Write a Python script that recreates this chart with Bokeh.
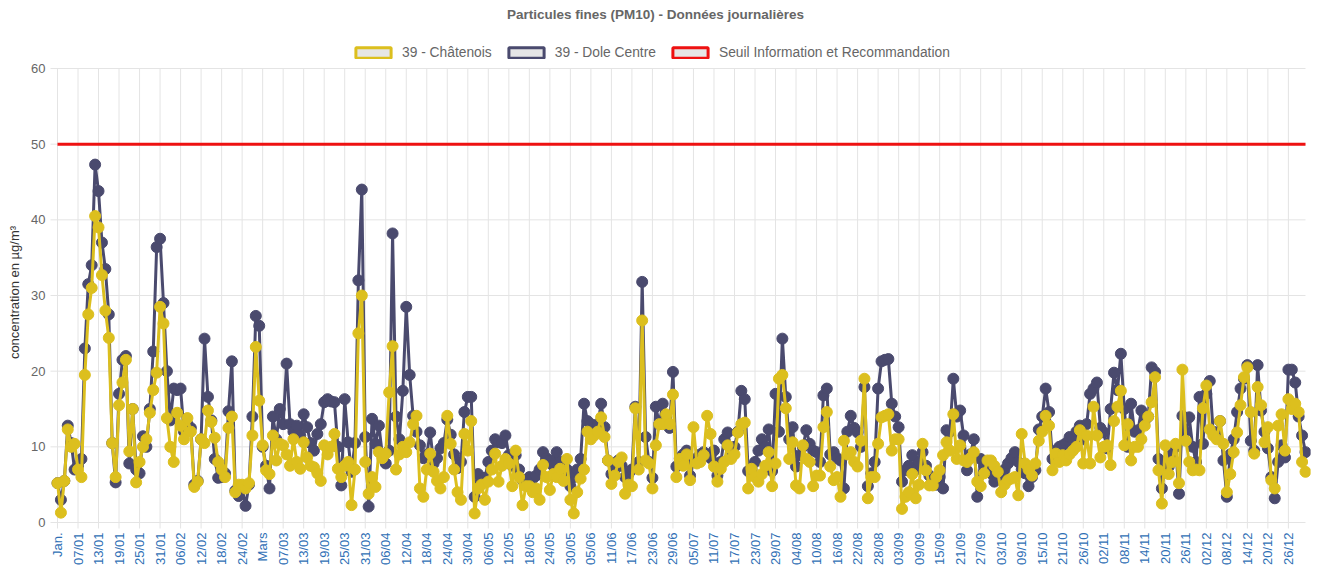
import math
from bokeh.plotting import figure
from bokeh.models import (Range1d, FixedTicker, Legend, LegendItem, ColumnDataSource, Label)
from bokeh.core.properties import value
from bokeh.embed import file_html
from bokeh.resources import INLINE

title_text = "Particules fines (PM10) - Données journalières"
y_axis_title = "concentration en µg/m³"
series_names = ["39 - Châtenois", "39 - Dole Centre", "Seuil Information et Recommandation"]
threshold = 50
y_ticks = [0, 10, 20, 30, 40, 50, 60]

tick_labels = ["Jan.", "07/01", "13/01", "19/01", "25/01", "31/01", "06/02", "12/02", "18/02", "24/02",
               "Mars", "07/03", "13/03", "19/03", "25/03", "31/03", "06/04", "12/04", "18/04", "24/04",
               "30/04", "06/05", "12/05", "18/05", "24/05", "30/05", "05/06", "11/06", "17/06", "23/06",
               "29/06", "05/07", "11/07", "17/07", "23/07", "29/07", "04/08", "10/08", "16/08", "22/08",
               "28/08", "03/09", "09/09", "15/09", "21/09", "27/09", "03/10", "09/10", "15/10", "21/10",
               "26/10", "02/11", "08/11", "14/11", "20/11", "26/11", "02/12", "08/12", "14/12", "20/12",
               "26/12"]

dole = [
    5.2, 3.0, 5.5, 12.8, 10.5, 7.0, 7.5, 8.4, 23.0, 31.5,
    34.0, 47.3, 43.8, 37.0, 33.5, 27.5, 10.5, 5.3, 17.0, 21.5,
    22.0, 7.8, 15.0, 7.0, 6.5, 11.4, 10.0, 15.0, 22.6, 36.4,
    37.5, 29.0, 20.0, 13.5, 17.7, 17.5, 17.7, 12.0, 13.0, 12.5,
    5.0, 5.5, 11.0, 24.3, 16.6, 13.5, 8.4, 5.9, 6.0, 6.5,
    14.7, 21.3, 4.2, 3.5, 4.5, 2.2, 5.0, 14.0, 27.3, 26.0,
    10.0, 7.5, 4.5, 14.0, 11.0, 15.0, 13.0, 21.0, 13.0, 12.0,
    12.8, 11.5, 14.3, 12.6, 10.5, 9.5, 11.7, 13.0, 15.9, 16.3,
    16.0, 15.9, 10.0, 4.9, 16.3, 10.6, 6.7, 10.5, 32.0, 44.0,
    11.3, 2.1, 13.7, 10.4, 12.8, 9.0, 7.8, 9.5, 38.2, 14.0,
    11.0, 17.4, 28.5, 19.5, 14.1, 12.0, 10.2, 8.5, 9.0, 11.9,
    7.8, 8.5, 9.8, 10.5, 13.6, 11.6, 9.0, 7.2, 8.0, 14.6,
    16.6, 16.6, 3.4, 6.4, 5.5, 5.9, 8.0, 9.5, 11.0, 10.6,
    10.5, 11.5, 8.9, 7.5, 8.9, 7.0, 5.6, 5.5, 6.0, 5.8,
    6.2, 7.0, 9.3, 8.5, 8.2, 7.5, 9.3, 8.0, 6.5, 7.0,
    4.8, 6.0, 7.0, 8.4, 15.7, 13.4, 13.0, 12.0, 13.0, 15.7,
    12.6, 8.2, 6.4, 7.0, 8.2, 7.5, 6.0, 6.4, 7.0, 15.3,
    8.0, 31.8, 11.3, 8.0, 5.9, 15.3, 13.0, 15.7, 14.0, 12.5,
    19.9, 7.4, 8.5, 9.0, 9.5, 6.2, 8.0, 8.5, 9.0, 9.3,
    9.0, 8.5, 9.5, 6.2, 8.0, 11.0, 11.9, 9.5, 10.0, 12.0,
    17.4, 16.3, 6.8, 7.0, 8.0, 9.5, 11.0, 10.0, 12.3, 6.8,
    17.0, 12.0, 24.3, 16.6, 11.0, 12.6, 7.4, 8.9, 10.0, 12.2,
    10.4, 9.5, 9.3, 8.0, 16.8, 17.7, 9.0, 9.3, 8.5, 8.2,
    4.5, 12.0, 14.1, 12.5, 11.9, 10.0, 17.9, 4.8, 6.5, 8.0,
    17.7, 21.3, 21.5, 21.6, 15.7, 14.0, 12.6, 5.4, 6.9, 7.5,
    8.9, 7.0, 8.0, 9.3, 7.5, 6.2, 5.5, 5.0, 6.0, 4.5,
    12.2, 12.0, 19.0, 14.0, 14.8, 11.5, 6.9, 9.0, 11.0, 3.4,
    8.4, 7.5, 7.0, 6.5, 5.4, 6.0, 6.5, 7.0, 7.8, 8.5,
    9.3, 8.0, 7.0, 6.5, 4.8, 6.0, 6.9, 12.3, 14.0, 17.7,
    14.6, 8.4, 9.5, 10.0, 10.2, 10.5, 11.3, 11.0, 12.0, 12.8,
    11.0, 13.0, 17.0, 17.7, 18.5, 12.5, 11.9, 9.8, 15.0, 19.8,
    17.5, 22.3, 15.0, 10.0, 15.7, 12.0, 12.2, 14.8, 13.5, 14.0,
    20.5, 19.9, 8.4, 4.5, 8.0, 7.4, 9.0, 10.0, 3.8, 14.1,
    12.0, 13.9, 10.0, 8.0, 16.6, 10.4, 17.0, 18.7, 12.0, 11.9,
    13.4, 8.2, 3.4, 9.0, 11.0, 14.6, 17.7, 19.0, 20.8, 10.8,
    9.5, 20.8, 14.8, 12.0, 9.8, 6.0, 3.2, 8.0, 10.2, 8.6,
    20.2, 20.2, 18.5, 14.0, 11.5, 9.3,
]

chatenois = [
    5.2, 1.3, 5.5, 12.3, 10.0, 10.4, 7.0, 6.0, 19.5, 27.5,
    31.0, 40.5, 39.0, 32.7, 28.0, 24.4, 10.5, 6.0, 15.5, 18.5,
    21.5, 9.4, 15.0, 5.3, 8.0, 10.0, 11.0, 14.5, 17.5, 19.8,
    28.5, 26.3, 13.8, 10.0, 8.0, 14.5, 12.8, 11.0, 13.8, 12.0,
    4.7, 5.4, 11.0, 10.5, 14.8, 13.3, 11.2, 8.0, 7.0, 6.0,
    12.5, 14.0, 4.0, 5.0, 5.0, 4.5, 5.2, 11.5, 23.2, 16.1,
    10.2, 6.9, 6.4, 11.5, 8.2, 10.4, 10.2, 9.0, 7.5, 11.0,
    8.0, 7.1, 10.6, 8.6, 7.5, 7.3, 6.5, 5.5, 10.2, 9.0,
    10.0, 11.7, 7.1, 6.0, 7.5, 8.0, 2.3, 7.0, 25.0, 30.0,
    8.0, 3.8, 6.0, 4.7, 9.3, 8.5, 9.1, 17.2, 23.3, 7.0,
    9.0, 10.0, 9.3, 10.6, 13.0, 14.1, 4.5, 3.4, 7.0, 9.1,
    6.7, 5.5, 4.5, 6.0, 14.1, 10.4, 7.0, 4.0, 3.0, 11.7,
    9.5, 13.4, 1.2, 4.5, 5.0, 3.0, 5.4, 7.0, 9.1, 5.4,
    7.5, 8.4, 7.8, 4.8, 9.5, 6.0, 2.3, 4.8, 4.8, 4.0,
    4.5, 3.0, 7.6, 6.0, 4.3, 6.4, 6.0, 7.1, 5.5, 8.4,
    3.0, 1.2, 4.0, 5.8, 7.0, 12.0, 11.0, 11.5, 12.0, 13.9,
    11.3, 8.2, 5.1, 6.2, 8.0, 8.6, 3.8, 5.0, 4.8, 15.1,
    7.0, 26.7, 8.2, 7.8, 4.5, 10.2, 13.0, 13.0, 14.3, 13.0,
    16.9, 6.0, 8.4, 7.5, 9.0, 5.6, 12.6, 7.8, 8.0, 8.9,
    14.1, 11.7, 7.4, 5.4, 7.1, 8.0, 10.2, 8.4, 9.0, 11.9,
    13.0, 13.2, 4.5, 7.1, 6.0, 5.4, 6.4, 7.5, 9.3, 4.8,
    7.8, 19.0, 19.5, 15.1, 8.4, 10.6, 4.9, 4.5, 10.2, 8.4,
    8.0, 4.8, 6.2, 6.2, 12.6, 14.6, 7.4, 5.6, 6.0, 3.4,
    10.8, 9.0, 9.3, 8.0, 7.4, 10.8, 19.0, 3.2, 6.0, 6.0,
    10.4, 13.9, 14.1, 14.3, 9.5, 11.0, 11.0, 1.8, 3.4, 4.0,
    6.4, 3.2, 5.0, 10.4, 6.9, 4.9, 4.9, 6.0, 6.9, 8.9,
    10.6, 9.5, 14.3, 8.4, 10.2, 8.2, 8.0, 8.5, 9.3, 5.4,
    4.8, 6.5, 8.2, 8.2, 7.5, 6.7, 4.0, 5.0, 5.6, 5.8,
    6.0, 3.6, 11.7, 7.8, 7.0, 6.2, 7.8, 10.8, 12.0, 14.1,
    12.8, 6.9, 9.1, 8.0, 8.9, 8.2, 9.0, 9.5, 10.0, 12.2,
    7.8, 11.5, 7.8, 15.3, 11.5, 8.6, 10.0, 10.2, 7.6, 13.4,
    15.3, 17.4, 10.2, 13.0, 8.2, 10.0, 10.0, 11.0, 12.8, 14.0,
    15.9, 19.2, 6.9, 2.5, 10.2, 6.4, 8.0, 10.4, 5.2, 20.2,
    10.8, 8.0, 6.9, 7.0, 6.9, 15.1, 18.1, 12.3, 11.5, 11.0,
    13.4, 10.4, 4.0, 6.4, 9.3, 11.9, 15.5, 19.2, 20.5, 14.6,
    9.1, 17.9, 15.5, 10.6, 12.6, 5.6, 4.5, 12.8, 14.3, 9.5,
    16.3, 15.0, 15.7, 14.6, 8.0, 6.7,
]

assert len(dole) == 366 and len(chatenois) == 366

days = list(range(len(dole)))
tick_days = list(range(0, len(dole), 6))
last_day = len(dole) - 1

COL_CHAT = "#dcbf1e"
COL_DOLE = "#4a4a6e"
COL_SEUIL = "#ee1111"
GRID = "#e4e4e4"
FONT = "Liberation Sans"

# layout geometry (pixels); the frame covers the whole canvas above the x labels
FIG_H = 568
FRAME_R, FRAME_B = 1310, 529
ZERO_PX = 522               # pixel row of the value 0
TOP_PX = 68                 # pixel row of the value 60
DATA_L, DATA_R = 57, 1305   # pixel columns of the first and last day
GRID_L = 50
px_per_unit = (ZERO_PX - TOP_PX) / 60.0
y_start = -(FRAME_B - ZERO_PX) / px_per_unit
y_end = ZERO_PX / px_per_unit
px_per_day = (DATA_R - DATA_L) / last_day
x_start = -DATA_L / px_per_day
x_end = last_day + (FRAME_R - DATA_R) / px_per_day


def px_to_x(px):
    return x_start + px / px_per_day


def px_to_y(py):
    return (ZERO_PX - py) / px_per_unit


p = figure(width=FRAME_R + 2, height=FIG_H, output_backend="svg", toolbar_location=None,
           x_range=Range1d(x_start, x_end), y_range=Range1d(y_start, y_end),
           min_border_left=0, min_border_right=2, min_border_bottom=FIG_H - FRAME_B,
           min_border_top=0)

p.outline_line_color = None
p.background_fill_color = "white"
p.xgrid.visible = False
p.ygrid.visible = False
p.yaxis.visible = False

# grid lines limited to the 0..60 data area (vertical ones extend as small ticks below 0)
p.segment(x0=tick_days, x1=tick_days, y0=[px_to_y(ZERO_PX + 6)] * len(tick_days),
          y1=[60] * len(tick_days), line_color=GRID, line_width=1)
p.segment(x0=[px_to_x(GRID_L)] * len(y_ticks), x1=[last_day] * len(y_ticks), y0=y_ticks, y1=y_ticks,
          line_color=GRID, line_width=1)

# y tick labels and y axis title
p.text(x=[px_to_x(45)] * len(y_ticks), y=y_ticks, text=[str(t) for t in y_ticks],
       text_align="right", text_baseline="middle", text_font=value(FONT),
       text_font_size="13px", text_color="#666666")
p.add_layout(Label(x=px_to_x(14), y=px_to_y(292), text=y_axis_title, angle=math.pi / 2,
                   text_align="center", text_baseline="middle", text_font=FONT,
                   text_font_size="13px", text_color="#333333"))

src = ColumnDataSource(dict(day=days, dole=dole, chat=chatenois,
                            seuil=[threshold] * len(days)))

p.line("day", "seuil", source=src, line_color=COL_SEUIL, line_width=3)
p.line("day", "dole", source=src, line_color=COL_DOLE, line_width=3)
p.scatter("day", "dole", source=src, size=11, fill_color=COL_DOLE, line_color=COL_DOLE)
p.line("day", "chat", source=src, line_color=COL_CHAT, line_width=3)
p.scatter("day", "chat", source=src, size=11, fill_color=COL_CHAT, line_color=COL_CHAT)

# title
p.add_layout(Label(x=px_to_x(655), y=px_to_y(14), text=title_text, text_align="center",
                   text_baseline="middle", text_font=FONT, text_font_size="13.5px",
                   text_font_style="bold", text_color="#666666"))

# legend swatches (proxy boxes kept outside the visible ranges)
sw = []
for c in [COL_CHAT, COL_DOLE, COL_SEUIL]:
    sw.append(p.quad(left=[x_start - 20], right=[x_start - 19], top=[-20], bottom=[-21],
                     fill_color="#e6e6e6", line_color=c, line_width=3))
legend = Legend(items=[LegendItem(label=n, renderers=[r]) for n, r in zip(series_names, sw)],
                orientation="horizontal", location=(351, FRAME_B - 60),
                glyph_width=44, glyph_height=13, spacing=12, label_standoff=7,
                label_text_font=FONT, label_text_font_size="13.8px", label_text_color="#666666",
                border_line_color=None, background_fill_alpha=0, padding=4, margin=0)
p.add_layout(legend, "center")

# x axis
p.xaxis.ticker = FixedTicker(ticks=tick_days)
p.xaxis.major_label_overrides = {d: lab for d, lab in zip(tick_days, tick_labels)}
p.xaxis.major_label_orientation = math.pi / 2
p.xaxis.major_label_text_color = "#2f6fb5"
p.xaxis.major_label_text_font = FONT
p.xaxis.major_label_text_font_size = "13px"
p.xaxis.axis_line_color = None
p.xaxis.major_tick_line_color = None
p.xaxis.major_tick_out = 0
p.xaxis.major_tick_in = 0
p.xaxis.minor_tick_line_color = None
p.xaxis.major_label_standoff = 3

open("out.html", "w").write(file_html(p, INLINE))
